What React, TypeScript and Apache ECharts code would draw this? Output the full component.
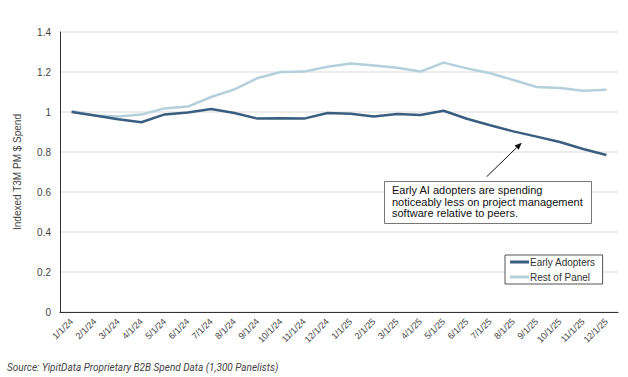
import React, { useEffect, useRef } from "react";
import * as echarts from "echarts";

const categories = [
  "1/1/24", "2/1/24", "3/1/24", "4/1/24", "5/1/24", "6/1/24", "7/1/24", "8/1/24",
  "9/1/24", "10/1/24", "11/1/24", "12/1/24", "1/1/25", "2/1/25", "3/1/25", "4/1/25",
  "5/1/25", "6/1/25", "7/1/25", "8/1/25", "9/1/25", "10/1/25", "11/1/25", "12/1/25",
];

const earlyAdopters = [
  1.0, 0.982, 0.964, 0.949, 0.988, 0.998, 1.015, 0.995,
  0.967, 0.969, 0.967, 0.995, 0.991, 0.978, 0.99, 0.985,
  1.006, 0.966, 0.934, 0.903, 0.877, 0.85, 0.815, 0.785,
];

const restOfPanel = [
  1.005, 0.983, 0.977, 0.987, 1.018, 1.027, 1.075, 1.113,
  1.17, 1.2, 1.202, 1.226, 1.243, 1.232, 1.221, 1.202,
  1.247, 1.218, 1.194, 1.16, 1.125, 1.12, 1.106, 1.111,
];

const yTicks = { min: 0, max: 1.4, interval: 0.2 };

const seriesNames = ["Early Adopters", "Rest of Panel"];
const DARK = "#3a5e80";
const LIGHT = "#b4d0db";

const annotationLines = [
  "Early AI adopters are spending",
  "noticeably less on project management",
  "software relative to peers.",
];
const sourceText = "Source: YipitData Proprietary B2B Spend Data (1,300 Panelists)";

export default function App() {
  const ref = useRef<HTMLDivElement>(null);
  useEffect(() => {
    if (!ref.current) return;
    const chart = echarts.init(ref.current, null, { renderer: "svg" });
    const font = "'Liberation Sans', Arial, Helvetica, sans-serif";
    const x1 = 486.7, y1 = 176.7, x2 = 521.7, y2 = 142.7;
    const len = Math.hypot(x2 - x1, y2 - y1);
    const ux = (x2 - x1) / len, uy = (y2 - y1) / len;
    const hl = 7, hw = 3;
    const bx = x2 - ux * hl, by = y2 - uy * hl;
    const px = -uy, py = ux;
    chart.setOption({
      animation: false,
      textStyle: { fontFamily: font },
      grid: { left: 60, top: 32, right: 10, bottom: 65, containLabel: false },
      legend: {
        orient: "vertical",
        left: 505,
        top: 255,
        data: seriesNames.map((n) => ({ name: n, icon: "rect" })),
        itemWidth: 19,
        itemHeight: 3,
        itemGap: 5,
        padding: [2, 7, 2, 5],
        borderColor: "#555",
        borderWidth: 1,
        backgroundColor: "#fff",
        textStyle: { fontSize: 10, color: "#333", fontFamily: font, padding: [0, 0, 0, -4] },
      },
      xAxis: {
        type: "category",
        data: categories,
        boundaryGap: true,
        axisLine: { lineStyle: { color: "#333", width: 1 } },
        axisTick: { show: false },
        axisLabel: {
          rotate: 45,
          interval: 0,
          fontSize: 9,
          color: "#444",
          margin: 8,
          fontFamily: font,
        },
      },
      yAxis: {
        type: "value",
        min: yTicks.min,
        max: yTicks.max,
        interval: yTicks.interval,
        name: "Indexed T3M PM $ Spend",
        nameLocation: "middle",
        nameGap: 38,
        nameTextStyle: { fontSize: 10, color: "#444", fontFamily: font },
        axisLine: { show: true, lineStyle: { color: "#333", width: 1 } },
        axisTick: { show: false },
        axisLabel: {
          fontSize: 10,
          color: "#444",
          margin: 9,
          fontFamily: font,
          formatter: (v: number) => String(Math.round(v * 10) / 10),
        },
        splitLine: { lineStyle: { color: "#e6e6e6", width: 1.5 } },
      },
      series: [
        {
          name: seriesNames[0],
          type: "line",
          data: earlyAdopters,
          symbol: "none",
          lineStyle: { color: DARK, width: 2.5 },
          itemStyle: { color: DARK },
          z: 3,
        },
        {
          name: seriesNames[1],
          type: "line",
          data: restOfPanel,
          symbol: "none",
          lineStyle: { color: LIGHT, width: 2.5 },
          itemStyle: { color: LIGHT },
          z: 2,
        },
      ],
      graphic: [
        {
          type: "line",
          shape: { x1, y1, x2: bx, y2: by },
          style: { stroke: "#111", lineWidth: 1 },
          z: 10,
        },
        {
          type: "polygon",
          shape: {
            points: [
              [x2, y2],
              [bx + px * hw, by + py * hw],
              [bx - px * hw, by - py * hw],
            ],
          },
          style: { fill: "#111" },
          z: 10,
        },
        {
          type: "rect",
          shape: { x: 384.5, y: 181.5, width: 207, height: 42 },
          style: { fill: "#fff", stroke: "#777", lineWidth: 1 },
          z: 10,
        },
        {
          type: "text",
          x: 392,
          y: 184.5,
          style: {
            text: annotationLines.join("\n"),
            fontSize: 11,
            lineHeight: 11.5,
            fill: "#111",
            fontFamily: font,
          },
          z: 11,
        },
        {
          type: "text",
          x: 7,
          y: 362,
          style: {
            text: sourceText,
            fontSize: 10,
            fontStyle: "italic",
            fill: "#444",
            fontFamily: "Roboto, 'Liberation Sans', sans-serif",
          },
          z: 11,
        },
      ],
    });
    return () => chart.dispose();
  }, []);
  return <div ref={ref} style={{ width: 628, height: 377, position: "absolute", left: 0, top: 0 }} />;
}
